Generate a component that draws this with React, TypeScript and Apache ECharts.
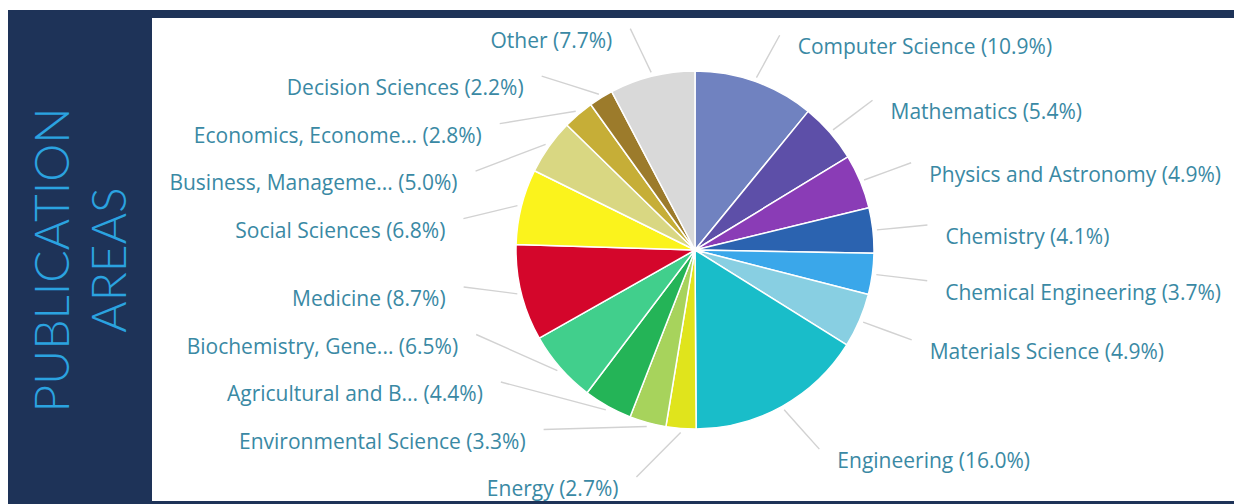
import React, { useEffect, useRef } from "react";
import * as echarts from "echarts";

const categories = [
  "Computer Science",
  "Mathematics",
  "Physics and Astronomy",
  "Chemistry",
  "Chemical Engineering",
  "Materials Science",
  "Engineering",
  "Energy",
  "Environmental Science",
  "Agricultural and B...",
  "Biochemistry, Gene...",
  "Medicine",
  "Social Sciences",
  "Business, Manageme...",
  "Economics, Econome...",
  "Decision Sciences",
  "Other",
];

const shares = [10.9, 5.4, 4.9, 4.1, 3.7, 4.9, 16.0, 2.7, 3.3, 4.4, 6.5, 8.7, 6.8, 5.0, 2.8, 2.2, 7.7];

const colors = [
  "#7082c0",
  "#5d4fa8",
  "#8a3cb6",
  "#2b63b0",
  "#3aa7ea",
  "#88cfe2",
  "#19bdc9",
  "#e0e41c",
  "#a7d35c",
  "#24b457",
  "#41cf8c",
  "#d4062b",
  "#fbf31c",
  "#d9d782",
  "#c6ae37",
  "#9c7b2b",
  "#d9d9d9",
];

const titleLines = ["PUBLICATION", "AREAS"];

// pie geometry (chart pixels)
const CX = 687;
const CY = 242;
const R = 179;

// Highcharts-like label distribution computed from the slice angles
function computeLabelLayout() {
  const total = shares.reduce((a, b) => a + b, 0);
  let cum = 0;
  const items = shares.map((v, i) => {
    const th = (2 * Math.PI * (cum + v / 2)) / total;
    cum += v;
    return { i, th, right: th < Math.PI, y: CY + 11 - 228 * Math.cos(th), x: 0 };
  });
  const gap = 47.5;
  const top = 29;
  const bottom = 480;
  [true, false].forEach((side) => {
    const list = items.filter((it) => it.right === side).sort((a, b) => a.y - b.y);
    for (let k = 0; k < list.length; k++) {
      const prev = k === 0 ? top - gap : list[k - 1].y;
      list[k].y = Math.max(list[k].y, prev + gap);
    }
    for (let k = list.length - 1; k >= 0; k--) {
      const next = k === list.length - 1 ? bottom + gap : list[k + 1].y;
      list[k].y = Math.min(list[k].y, next - gap);
    }
  });
  items.forEach((it) => {
    const d = it.y - (CY + 13);
    const h = Math.sqrt(Math.max(0, 232 * 232 - d * d));
    it.x = CX + (it.right ? 1 : -1) * (20 + h);
  });
  return items;
}

export default function App() {
  const ref = useRef<HTMLDivElement>(null);
  useEffect(() => {
    if (!ref.current) return;
    const chart = echarts.init(ref.current, null, { renderer: "svg" });
    const layout = computeLabelLayout();
    chart.setOption({
      animation: false,
      backgroundColor: "#ffffff",
      graphic: [
        { type: "rect", z: -10, shape: { x: 0, y: 2, width: 1234, height: 494 }, style: { fill: "#1e3358" } },
        { type: "rect", z: -9, shape: { x: 144, y: 10, width: 1084, height: 483 }, style: { fill: "#ffffff" } },
        {
          type: "text",
          x: 71,
          y: 252,
          rotation: Math.PI / 2,
          style: {
            text: titleLines.join("\n"),
            fill: "#2ba3e0",
            font: "300 48px Lato, 'Open Sans', sans-serif",
            lineHeight: 57,
            align: "center",
            verticalAlign: "middle",
          },
        },
      ],
      series: [
        {
          type: "pie",
          center: [CX, CY],
          radius: R,
          startAngle: 90,
          clockwise: true,
          avoidLabelOverlap: false,
          itemStyle: { borderColor: "#ffffff", borderWidth: 1.5 },
          label: {
            show: true,
            position: "outside",
            color: "#3a89a4",
            fontFamily: "'Open Sans', sans-serif",
            fontSize: 21,
            formatter: (p: any) => `${p.name} (${p.value.toFixed(1)}%)`,
          },
          labelLine: {
            show: true,
            length: 20,
            length2: 20,
            lineStyle: { color: "#d2d2d2", width: 1.4 },
          },
          labelLayout: (params: any) => {
            const L = layout[params.dataIndex];
            const s = L.right ? 1 : -1;
            const sx = CX + (R + 4) * Math.sin(L.th);
            const sy = CY - (R + 4) * Math.cos(L.th);
            const ex = L.x - s * 18;
            const ey = L.y - 11;
            return {
              x: L.x,
              y: L.y,
              align: L.right ? "left" : "right",
              verticalAlign: "middle",
              labelLinePoints: [
                [sx, sy],
                [(sx + ex) / 2, (sy + ey) / 2],
                [ex, ey],
              ],
            };
          },
          emphasis: { disabled: true },
          data: categories.map((name, i) => ({
            name,
            value: shares[i],
            itemStyle: { color: colors[i] },
          })),
        },
      ],
    });
    return () => chart.dispose();
  }, []);
  return <div ref={ref} style={{ width: 1234, height: 496 }} />;
}
